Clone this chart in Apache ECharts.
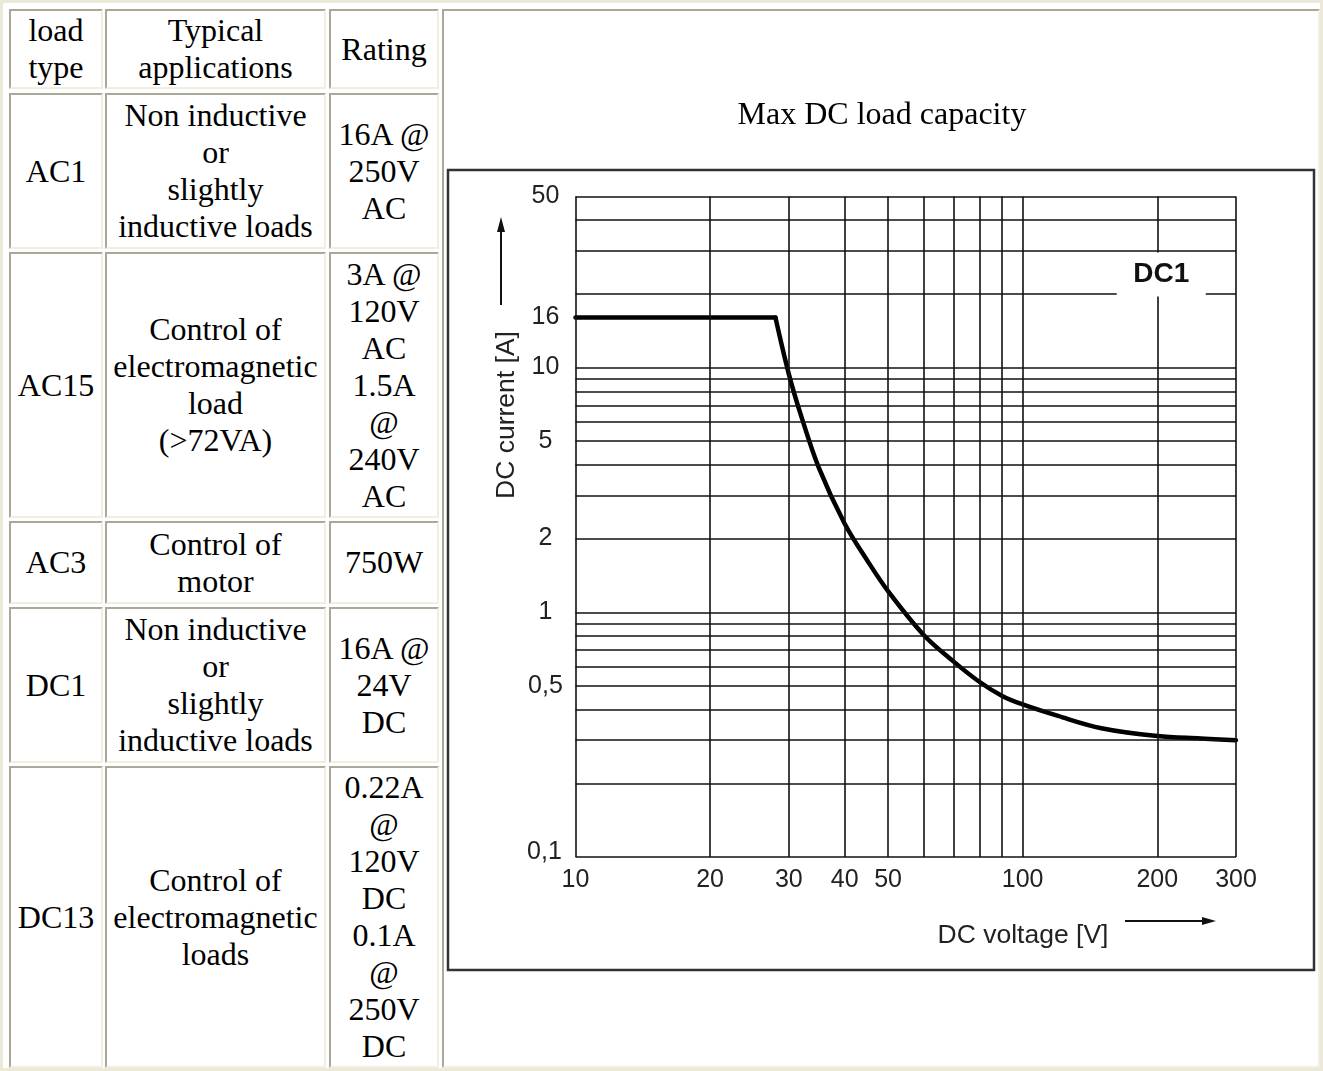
<!DOCTYPE html>
<html>
<head>
<meta charset="utf-8">
<script src="https://cdn.jsdelivr.net/npm/echarts@6/dist/echarts.min.js"></script>
<style>
html, body { margin: 0; padding: 0; background: #fff; }
#page { position: relative; width: 1323px; height: 1071px; overflow: hidden; background: #fff; }
.outer { position: absolute; left: 0; top: 0; width: 1323px; height: 1071px; box-sizing: border-box; border: 3px solid #ece9d8; }
.cell { position: absolute; box-sizing: border-box; border-style: solid; border-width: 2px;
  border-color: #aca899 #f1efe2 #f1efe2 #aca899; display: flex; align-items: center; justify-content: center;
  text-align: center; white-space: pre-line; font-family: "Liberation Serif", "Times New Roman", serif;
  font-size: 32px; line-height: 37px; color: #000; background: #fff; }
#chart { position: absolute; left: 0; top: 0; width: 1323px; height: 1071px; }
</style>
</head>
<body>
<div id="page">
  <div class="outer"></div>
  <div id="table"></div>
  <div id="chart"></div>
</div>
<script>
// ---------- table data ----------
const headers = ["load\ntype", "Typical\napplications", "Rating"];
const loadTypes = ["AC1", "AC15", "AC3", "DC1", "DC13"];
const applications = [
  "Non inductive\nor\nslightly\ninductive loads",
  "Control of\nelectromagnetic\nload\n(>72VA)",
  "Control of\nmotor",
  "Non inductive\nor\nslightly\ninductive loads",
  "Control of\nelectromagnetic\nloads"
];
const ratings = [
  "16A @\n250V\nAC",
  "3A @\n120V\nAC\n1.5A\n@\n240V\nAC",
  "750W",
  "16A @\n24V\nDC",
  "0.22A\n@\n120V\nDC\n0.1A\n@\n250V\nDC"
];

// ---------- chart data ----------
const chartTitle = "Max DC load capacity";
const xAxisTitle = "DC voltage [V]";
const yAxisTitle = "DC current [A]";
const curveName = "DC1";
const curveNamePos = [200, 24];

const voltFlat = [10, 28];
const currFlat = [16, 16];
const voltCurve = [28, 30, 32, 35, 40, 45, 50, 60, 70, 80, 90, 100, 120, 150, 200, 250, 300];
const currCurve = [16, 9.4, 6.3, 3.9, 2.3, 1.62, 1.22, 0.81, 0.63, 0.52, 0.455, 0.42, 0.377, 0.336, 0.312, 0.305, 0.30];

const xGridValues = [10, 20, 30, 40, 50, 60, 70, 80, 90, 100, 200, 300];
const yGridValues = [0.1, 0.2, 0.3, 0.4, 0.5, 0.6, 0.7, 0.8, 0.9, 1, 2, 3, 4, 5, 6, 7, 8, 9, 10, 20, 30, 40, 50];

const xTickValues = [10, 20, 30, 40, 50, 100, 200, 300];
const xTickLabels = ["10", "20", "30", "40", "50", "100", "200", "300"];
const yTickValues = [50, 16, 10, 5, 2, 1, 0.5, 0.1];
const yTickLabels = ["50", "16", "10", "5", "2", "1", "0,5", "0,1"];

// ---------- build table ----------
const colX = [9, 105, 329];
const colW = [94, 221, 110];
const rowY = [9, 93, 252, 521, 607, 766];
const rowH = [80, 156, 266, 83, 156, 302];
const tbl = document.getElementById('table');
function addCell(x, y, w, h, text) {
  const d = document.createElement('div');
  d.className = 'cell';
  d.style.left = x + 'px'; d.style.top = y + 'px';
  d.style.width = w + 'px'; d.style.height = h + 'px';
  d.textContent = text;
  tbl.appendChild(d);
}
headers.forEach((t, c) => addCell(colX[c], rowY[0], colW[c], rowH[0], t));
loadTypes.forEach((lt, r) => {
  const cols = [lt, applications[r], ratings[r]];
  cols.forEach((t, c) => addCell(colX[c], rowY[r + 1], colW[c], rowH[r + 1], t));
});
addCell(442, 9, 878, 1059, "");

// ---------- chart ----------
const sans = '"Liberation Sans", Arial, sans-serif';
const chart = echarts.init(document.getElementById('chart'), null, { renderer: 'canvas' });
const noBorder = { textBorderWidth: 0, textBorderColor: 'transparent', textShadowBlur: 0, opacity: 1 };

const option = {
  animation: false,
  title: {
    text: chartTitle, left: 882, top: 100, textAlign: 'center', padding: 0,
    textStyle: { fontFamily: '"Liberation Serif", "Times New Roman", serif', fontSize: 32, fontWeight: 'normal', color: '#000' }
  },
  grid: { left: 575.5, right: 87, top: 196.5, bottom: 214, containLabel: false },
  xAxis: {
    type: 'log', logBase: 10, min: 10, max: 300,
    axisLine: { show: false }, axisTick: { show: false }, axisLabel: { show: false }, splitLine: { show: false }
  },
  yAxis: {
    type: 'log', logBase: 10, min: 0.1, max: 50,
    axisLine: { show: false }, axisTick: { show: false }, axisLabel: { show: false }, splitLine: { show: false }
  },
  graphic: [
    { type: 'rect', shape: { x: 448, y: 170, width: 866, height: 800 }, style: { fill: 'none', stroke: '#333', lineWidth: 2.5 } },
    { type: 'text', x: 507, y: 415, rotation: Math.PI / 2,
      style: { text: yAxisTitle, fontFamily: sans, fontSize: 26.5, fill: '#222', textAlign: 'center', textVerticalAlign: 'middle' } },
    { type: 'line', shape: { x1: 501, y1: 305, x2: 501, y2: 228 }, style: { stroke: '#111', lineWidth: 2 } },
    { type: 'polygon', shape: { points: [[501, 217], [497, 232], [505, 232]] }, style: { fill: '#111' } },
    { type: 'text', x: 1023, y: 936,
      style: { text: xAxisTitle, fontFamily: sans, fontSize: 26.5, fill: '#222', textAlign: 'center', textVerticalAlign: 'middle' } },
    { type: 'line', shape: { x1: 1125, y1: 921, x2: 1205, y2: 921 }, style: { stroke: '#111', lineWidth: 2 } },
    { type: 'polygon', shape: { points: [[1216, 921], [1202, 917], [1202, 925]] }, style: { fill: '#111' } }
  ],
  series: [
    {
      name: 'grid', type: 'line', data: [[10, 0.1]], symbol: 'none', silent: true, z: 1,
      lineStyle: { width: 0, opacity: 0 },
      markLine: {
        silent: true, symbol: ['none', 'none'], label: { show: false }, animation: false,
        lineStyle: { color: '#111', width: 1.6, type: 'solid' },
        emphasis: { disabled: true },
        data: xGridValues.map(v => ({ xAxis: v })).concat(yGridValues.map(v => ({ yAxis: v })))
      }
    },
    {
      name: 'flat', type: 'line', z: 3, symbol: 'none', silent: true,
      data: voltFlat.map((v, i) => [v, currFlat[i]]),
      lineStyle: { color: '#000', width: 4.5, cap: 'round', join: 'round' }
    },
    {
      name: curveName, type: 'line', z: 3, symbol: 'none', silent: true, smooth: 0.35,
      data: voltCurve.map((v, i) => [v, currCurve[i]]),
      lineStyle: { color: '#000', width: 4.5, cap: 'round', join: 'round' }
    },
    {
      name: 'xTicks', type: 'scatter', z: 5, silent: true, clip: false, symbolSize: 1,
      itemStyle: { color: 'rgba(0,0,0,0)' },
      data: xTickValues.map((v, i) => ({ value: [v, 0.1], name: xTickLabels[i] })),
      label: Object.assign({ show: true, position: 'inside', offset: [0, 23], formatter: p => p.name,
        fontFamily: sans, fontSize: 25, color: '#222' }, noBorder)
    },
    {
      name: 'yTicks', type: 'scatter', z: 5, silent: true, clip: false, symbolSize: 1,
      itemStyle: { color: 'rgba(0,0,0,0)' },
      data: yTickValues.map((v, i) => ({
        value: [10, v], name: yTickLabels[i],
        label: v === 0.1 ? { offset: [-31, -5] } : undefined
      })),
      label: Object.assign({ show: true, position: 'inside', offset: [-30, 0], formatter: p => p.name,
        fontFamily: sans, fontSize: 25, color: '#222' }, noBorder)
    },
    {
      name: 'curveLabel', type: 'scatter', z: 6, silent: true, clip: false,
      symbol: 'rect', symbolSize: [89, 44], symbolOffset: [4, 0],
      itemStyle: { color: '#fff', opacity: 1 },
      data: [{ value: curveNamePos, name: curveName }],
      label: Object.assign({ show: true, position: 'inside', formatter: p => p.name,
        fontFamily: sans, fontSize: 28, fontWeight: 'bold', color: '#111' }, noBorder)
    }
  ]
};
chart.setOption(option);
</script>
</body>
</html>
